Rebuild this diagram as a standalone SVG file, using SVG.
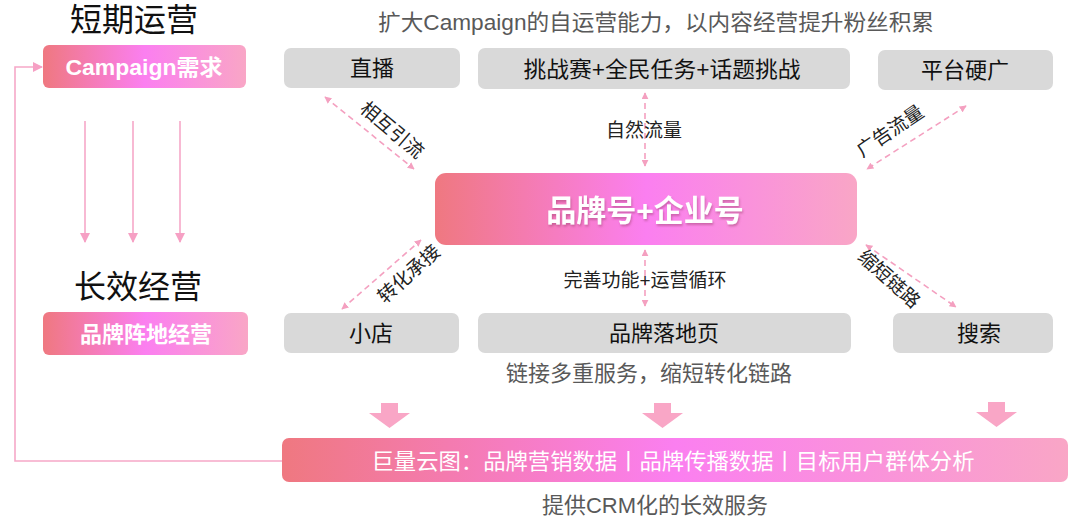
<svg xmlns="http://www.w3.org/2000/svg" width="1080" height="522" viewBox="0 0 1080 522">
<defs>
<linearGradient id="pg" x1="0" y1="0" x2="1" y2="0">
<stop offset="0" stop-color="#ef7880"/>
<stop offset="0.5" stop-color="#fb7ff0"/>
<stop offset="1" stop-color="#f9a6c6"/>
</linearGradient>
<marker id="ah" viewBox="0 0 10 10" refX="9" refY="5" markerWidth="7" markerHeight="7" orient="auto-start-reverse" markerUnits="userSpaceOnUse">
<path d="M0,0 L10,5 L0,10 z" fill="#f4a0c0"/>
</marker>
<marker id="ah2" viewBox="0 0 10 10" refX="9" refY="5" markerWidth="10" markerHeight="10" orient="auto" markerUnits="userSpaceOnUse">
<path d="M0,0 L10,5 L0,10 z" fill="#f6a0c4"/>
</marker>
<filter id="sh" x="-10%" y="-30%" width="120%" height="160%">
<feDropShadow dx="1" dy="2" stdDeviation="1" flood-color="#a04070" flood-opacity="0.5"/>
</filter>
</defs>
<style>
text{font-family:"Liberation Sans","Noto Sans CJK SC",sans-serif;}
.gray{fill:#d9d9d9;}
.lbl{font-size:22px;fill:#111;text-anchor:middle;dominant-baseline:central;}
.sub{font-size:22px;fill:#595959;text-anchor:middle;dominant-baseline:central;}
.small{font-size:19px;fill:#222;text-anchor:middle;dominant-baseline:central;}
.wt{fill:#fff;font-weight:bold;text-anchor:middle;dominant-baseline:central;}
.dash{stroke:#f4a0c0;stroke-width:1.6;stroke-dasharray:6 4;fill:none;marker-start:url(#ah);marker-end:url(#ah);}
.solid{stroke:#f6a8c8;stroke-width:1.6;fill:none;}
.blk{fill:#f9a6c6;}
.big{font-size:32px;fill:#111;text-anchor:middle;dominant-baseline:central;}
</style>
<rect width="1080" height="522" fill="#fff"/>

<text class="big" x="134" y="20">短期运营</text>
<text class="big" x="138" y="287">长效经营</text>
<text class="sub" x="656" y="22" textLength="556" lengthAdjust="spacingAndGlyphs">扩大Campaign的自运营能力，以内容经营提升粉丝积累</text>
<text class="sub" x="649" y="373">链接多重服务，缩短转化链路</text>
<text class="sub" x="655" y="505" font-size="23">提供CRM化的长效服务</text>

<g id="campaign"><rect x="43" y="45" width="203" height="43" rx="6" fill="url(#pg)"/><text class="wt" x="144" y="67" font-size="22" textLength="157" lengthAdjust="spacingAndGlyphs">Campaign需求</text></g>
<g id="brandbase"><rect x="43" y="312" width="205" height="43" rx="6" fill="url(#pg)"/><text class="wt" x="146" y="334" font-size="22">品牌阵地经营</text></g>

<g id="live"><rect class="gray" x="284" y="48" width="176" height="40" rx="7"/><text class="lbl" x="372" y="68">直播</text></g>
<g id="challenge"><rect class="gray" x="478" y="48" width="372" height="41" rx="7"/><text class="lbl" x="662" y="69" textLength="277" lengthAdjust="spacingAndGlyphs">挑战赛+全民任务+话题挑战</text></g>
<g id="ads"><rect class="gray" x="878" y="50" width="175" height="40" rx="7"/><text class="lbl" x="965" y="70">平台硬广</text></g>

<g id="center"><rect x="435" y="173" width="422" height="72" rx="11" fill="url(#pg)"/><text class="wt" x="645" y="210" font-size="30" filter="url(#sh)">品牌号+企业号</text></g>

<g id="shop"><rect class="gray" x="284" y="313" width="175" height="40" rx="7"/><text class="lbl" x="371" y="333">小店</text></g>
<g id="landing"><rect class="gray" x="478" y="313" width="373" height="40" rx="7"/><text class="lbl" x="664" y="333">品牌落地页</text></g>
<g id="search"><rect class="gray" x="893" y="313" width="160" height="40" rx="7"/><text class="lbl" x="979" y="333">搜索</text></g>

<g id="cloud"><rect x="282" y="438" width="786" height="44" rx="7" fill="url(#pg)"/><text x="673" y="461" font-size="22" fill="#fff" text-anchor="middle" dominant-baseline="central" textLength="603" lengthAdjust="spacingAndGlyphs">巨量云图：品牌营销数据丨品牌传播数据丨目标用户群体分析</text></g>

<g id="connectors">
<line class="solid" x1="85" y1="121" x2="85" y2="242" marker-end="url(#ah2)"/>
<line class="solid" x1="133" y1="121" x2="133" y2="242" marker-end="url(#ah2)"/>
<line class="solid" x1="180" y1="121" x2="180" y2="242" marker-end="url(#ah2)"/>
<polyline class="solid" points="282,461 15,461 15,67 42,67" marker-end="url(#ah2)"/>

<line class="dash" x1="325" y1="97" x2="414" y2="169"/>
<line class="dash" x1="645" y1="93" x2="645" y2="166"/>
<line class="dash" x1="966" y1="106" x2="867" y2="169"/>
<line class="dash" x1="342" y1="309" x2="421" y2="240"/>
<line class="dash" x1="645" y1="250" x2="645" y2="306"/>
<line class="dash" x1="866" y1="245" x2="956" y2="307"/>

<text class="small" transform="translate(392,130) rotate(40)">相互引流</text>
<text class="small" x="644" y="130">自然流量</text>
<text class="small" transform="translate(890,131) rotate(-34)">广告流量</text>
<text class="small" transform="translate(409,274) rotate(-42)">转化承接</text>
<text class="small" x="645" y="280">完善功能+运营循环</text>
<text class="small" transform="translate(889,279) rotate(42)">缩短链路</text>

<path class="blk" d="M381,403 H398 V413 H410 L389.5,428 L369,413 H381 Z"/>
<path class="blk" d="M654,403 H671 V413 H683 L662.5,428 L642,413 H654 Z"/>
<path class="blk" d="M988,402 H1005 V412 H1017 L996.5,427 L976,412 H988 Z"/>
</g>
</svg>
